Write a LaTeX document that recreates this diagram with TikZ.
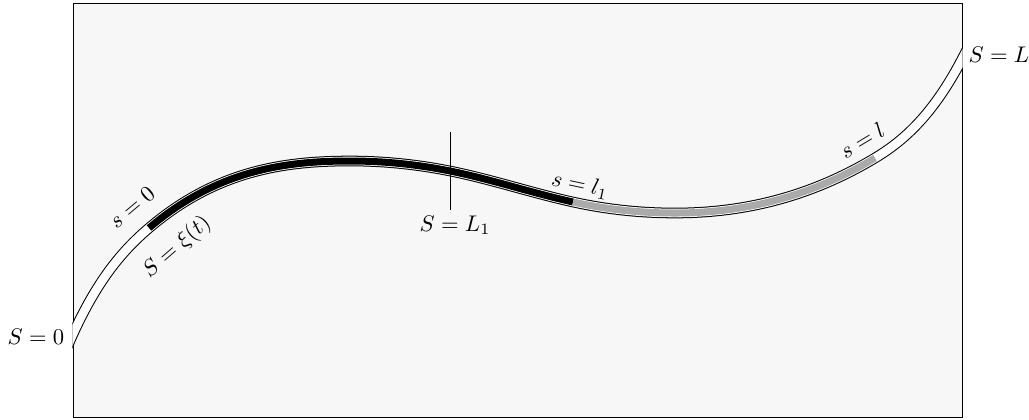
\documentclass[tikz,border=0pt]{standalone}
\definecolor{bgfill}{RGB}{247,247,247}
\definecolor{segray}{RGB}{170,170,170}
\tikzset{
  outerline/.style={line width=4.7pt, black, line cap=butt},
  innerline/.style={line width=3.8pt, white, line cap=butt},
  blackseg/.style={line width=3.1pt, black, line cap=butt},
  grayseg/.style={line width=3.1pt, segray, line cap=butt},
  lbl/.style={inner sep=1pt}
}
\begin{document}
\begin{tikzpicture}[x=0.4422pt, y=-0.4422pt]
\useasboundingbox (0,0) rectangle (1029,419);
% domain
\node[draw=black, line width=0.45pt, fill=bgfill, minimum width=889*0.4422pt, minimum height=414*0.4422pt, inner sep=0pt, anchor=north west] (box) at (73,2.7) {};
% centre line points
\coordinate (A) at (66,350.1);
\coordinate (P1) at (149,228);
\coordinate (Q) at (350,161);
\coordinate (P2) at (450,171);
\coordinate (P3) at (573,202);
\coordinate (R) at (675,213);
\coordinate (P4) at (875,158);
\coordinate (B) at (970,43.2);
\begin{scope}
\clip (72.4,-10) rectangle (962.6,430);
\foreach \st in {outerline,innerline}{
\draw[\st] (A) .. controls (93.67,283.7) and (121.33,251.5) .. (P1)
  .. controls (216,171) and (283,161) .. (Q)
  .. controls (383.3,161) and (416.7,164.3) .. (P2)
  .. controls (491,179.2) and (532,193) .. (P3)
  .. controls (607,209.5) and (641,213) .. (R)
  .. controls (741.7,213) and (808.3,198) .. (P4)
  .. controls (906.7,139) and (938.3,109.7) .. (B);
}
\end{scope}
\draw[blackseg] (P1) .. controls (216,171) and (283,161) .. (Q)
  .. controls (383.3,161) and (416.7,164.3) .. (P2)
  .. controls (491,179.2) and (532,193) .. (P3);
\draw[grayseg] (P3) .. controls (607,209.5) and (641,213) .. (R)
  .. controls (741.7,213) and (808.3,198) .. (P4);
% cut at S = L_1
\coordinate (vt) at (450,132);
\coordinate (vb) at (450,210);
\draw[line width=0.45pt] (vt) -- (vb);
% labels
\node[lbl] (S0) at (36,337) {$S=0$};
\node[lbl] (SL) at (999,55) {$S=L$};
\node[lbl] (SL1) at (455,225) {$S=L_1$};
\node[lbl, rotate=40] (s0) at (132,207) {$s=0$};
\node[lbl, rotate=41] (xi) at (177,247) {$S=\xi(t)$};
\node[lbl, rotate=-12] (sl1) at (580,185) {$s=l_1$};
\node[lbl, rotate=31] (sl) at (862,140) {$s=l$};
\end{tikzpicture}
\end{document}
